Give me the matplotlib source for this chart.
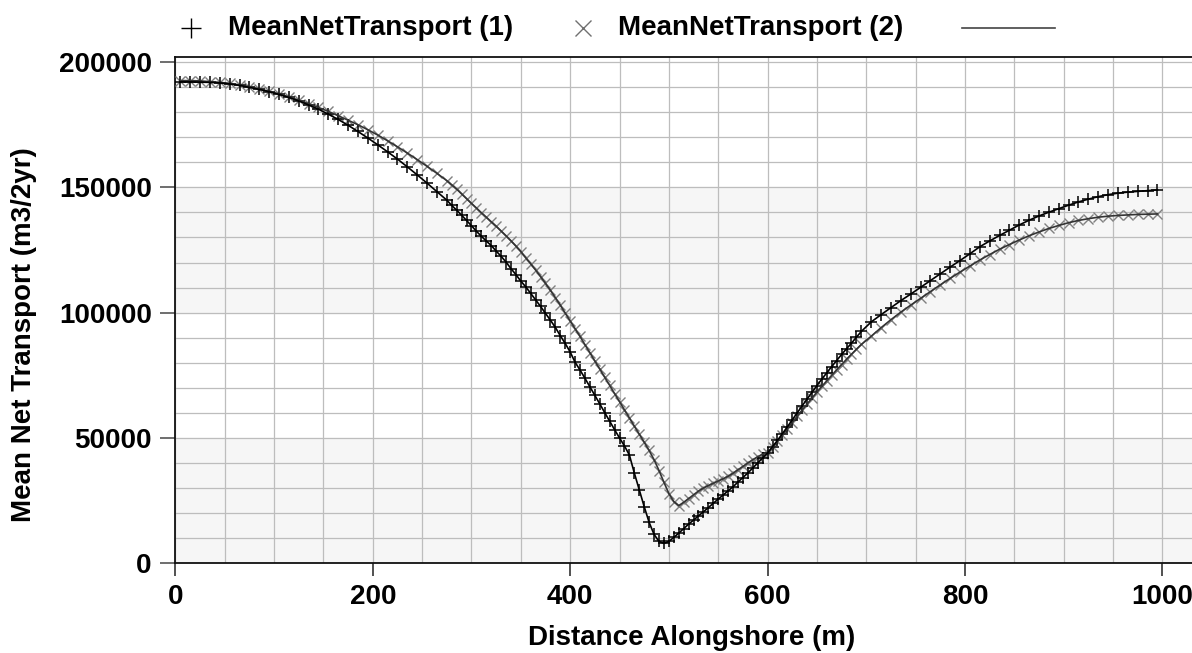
import matplotlib
matplotlib.use("Agg")
import matplotlib.pyplot as plt
from matplotlib.lines import Line2D
from matplotlib.ticker import MultipleLocator

plt.rcParams['font.family'] = ['Liberation Sans', 'DejaVu Sans']
plt.rcParams['font.weight'] = 'bold'

# distance alongshore (m)
dist = [5, 15, 25, 35, 45, 55, 65, 75, 85, 95, 105, 115, 125, 135, 145, 155, 165, 175, 185, 195,
        205, 215, 225, 235, 245, 255, 265, 275,
        280, 285, 290, 295, 300, 305, 310, 315, 320, 325, 330, 335, 340, 345, 350, 355, 360, 365,
        370, 375, 380, 385, 390, 395, 400, 405, 410, 415, 420, 425, 430, 435, 440, 445, 450, 455,
        460, 465, 470, 475, 480, 485, 490, 495, 500, 505, 510, 515, 520, 525, 530, 535, 540, 545,
        550, 555, 560, 565, 570, 575, 580, 585, 590, 595, 600, 605, 610, 615, 620, 625, 630, 635,
        640, 645, 650, 655, 660, 665, 670, 675, 680, 685, 690, 695,
        705, 715, 725, 735, 745, 755, 765, 775, 785, 795, 805, 815, 825, 835, 845, 855, 865, 875,
        885, 895, 905, 915, 925, 935, 945, 955, 965, 975, 985, 995]

transport_1 = [192100, 192100, 192000, 191900, 191700, 191300, 190700, 189900, 189100, 188200,
               187100, 185900, 184500, 182900, 181200, 179200, 177100, 174800, 172300, 169700,
               167000, 164200, 161300, 158200, 155000, 151700, 148300, 144900,
               142800, 140900, 138900, 136800, 134700, 132500, 130500, 128600, 126800, 124600,
               122500, 120200, 117600, 115200, 112600, 110300, 107700, 105100, 102500, 99700,
               97000, 94100, 90800, 87700, 84300, 80200, 77100, 73800, 70400, 67000, 63600, 60100,
               56700, 53300, 50000, 46800, 43200, 36000, 29300, 22600, 16300, 11500, 8700, 7900,
               8700, 10300, 12000, 13800, 15600, 17200, 18900, 20500, 22200, 23900, 25600, 27200,
               28900, 30500, 32400, 34200, 36000, 38000, 40000, 42000, 44000, 46500, 49000, 51700,
               54400, 57200, 60000, 62800, 65500, 68200, 70900, 73500, 76000, 78500, 80900, 83300,
               85600, 87800, 90200, 92500,
               96300, 99200, 102000, 104800, 107400, 110100, 112800, 115500, 118200, 120800,
               123500, 126300, 128600, 130800, 132900, 135000, 136900, 138600, 140100, 141500,
               142900, 144200, 145300, 146300, 147100, 147700, 148100, 148400, 148700, 149000]

transport_2 = [192600, 192600, 192500, 192200, 191900, 191500, 190900, 190200, 189300, 188300,
               187300, 186100, 184800, 183400, 181900, 180300, 178600, 176800, 175000, 173000,
               170900, 168600, 166200, 163700, 161100, 158400, 155600, 152700,
               151000, 149300, 147400, 145500, 143600, 141800, 139900, 138100, 136300, 134500,
               132600, 130700, 128700, 126600, 124400, 121900, 119500, 117000, 114400, 111700,
               108900, 106000, 103000, 99800, 96700, 93600, 90500, 87200, 84000, 80700, 77500,
               74200, 71000, 67700, 64500, 61200, 58000, 54700, 51500, 48300, 45000, 41300, 37000,
               32300, 27800, 24600, 23000, 24300, 25800, 27300, 28800, 30000, 31000, 31900, 32800,
               33700, 34700, 35900, 37300, 38600, 40000, 41300, 42500, 43500, 44000, 46200, 48600,
               51100, 53600, 56100, 58600, 61100, 63500, 65900, 68300, 70600, 72800, 75000, 77200,
               79300, 81400, 83400, 85400, 87300,
               90600, 94000, 97200, 100200, 103000, 105700, 108400, 111100, 113700, 116200,
               118600, 121000, 123200, 125300, 127200, 129000, 130700, 132200, 133600, 134800,
               135900, 136800, 137500, 138100, 138500, 138800, 139000, 139200, 139300, 139400]

fig = plt.figure(figsize=(11.92, 6.53), dpi=100)
ax = fig.add_axes([0.1471, 0.1375, 0.8529, 0.7747])

# shaded bands
for lo, hi in [(0, 50000), (100000, 150000)]:
    ax.axhspan(lo, hi, color='#f6f6f6', zorder=0)

ax.set_xlim(0, 1030)
ax.set_ylim(0, 201900)
ax.xaxis.set_major_locator(MultipleLocator(200))
ax.xaxis.set_minor_locator(MultipleLocator(50))
ax.yaxis.set_major_locator(MultipleLocator(50000))
ax.yaxis.set_minor_locator(MultipleLocator(10000))
ax.grid(which='both', color='#bdbdbd', lw=0.9, zorder=1)
ax.set_axisbelow(True)

ax.plot(dist, transport_2, ls='none', marker='x', ms=7, mew=1.0, color='#808080', zorder=3)
ax.plot(dist, transport_1, ls='none', marker='+', ms=8, mew=1.1, color='black', zorder=4)
ax.plot(dist, transport_2, color='#333333', lw=1.2, zorder=5)
ax.plot(dist, transport_1, color='black', lw=1.2, zorder=6)

ax.spines['right'].set_visible(False)
for s in ['top', 'left', 'bottom']:
    ax.spines[s].set_linewidth(1.3)
    ax.spines[s].set_color('#111111')

ax.tick_params(which='minor', length=0)
ax.tick_params(axis='x', which='major', length=9, width=1.2, color='#333333', pad=6, labelsize=20)
ax.tick_params(axis='y', which='major', length=11, width=1.2, color='#555555', pad=6, labelsize=20)
for lab in ax.get_xticklabels() + ax.get_yticklabels():
    lab.set_fontweight('bold')

ax.set_xlabel('Distance Alongshore (m)', fontsize=20, fontweight='bold')
ax.set_ylabel('Mean Net Transport (m3/2yr)', fontsize=20, fontweight='bold')
ax.xaxis.set_label_coords(0.508, -0.122)
ax.yaxis.set_label_coords(-0.136, 0.451)

# legend row above the plot
ly = 1 - 28 / 653
fig.add_artist(Line2D([191 / 1192], [ly], marker='+', ms=14, mew=1.0, color='black', ls='none'))
fig.text(228 / 1192, ly, 'MeanNetTransport (1)', fontsize=20, fontweight='bold', va='center', ha='left')
fig.add_artist(Line2D([583 / 1192], [ly], marker='x', ms=12, mew=1.0, color='#707070', ls='none'))
fig.text(618 / 1192, ly, 'MeanNetTransport (2)', fontsize=20, fontweight='bold', va='center', ha='left')
fig.add_artist(Line2D([962 / 1192, 1055 / 1192], [ly, ly], color='#444444', lw=1.2))

fig.savefig('out.png', dpi=100)
